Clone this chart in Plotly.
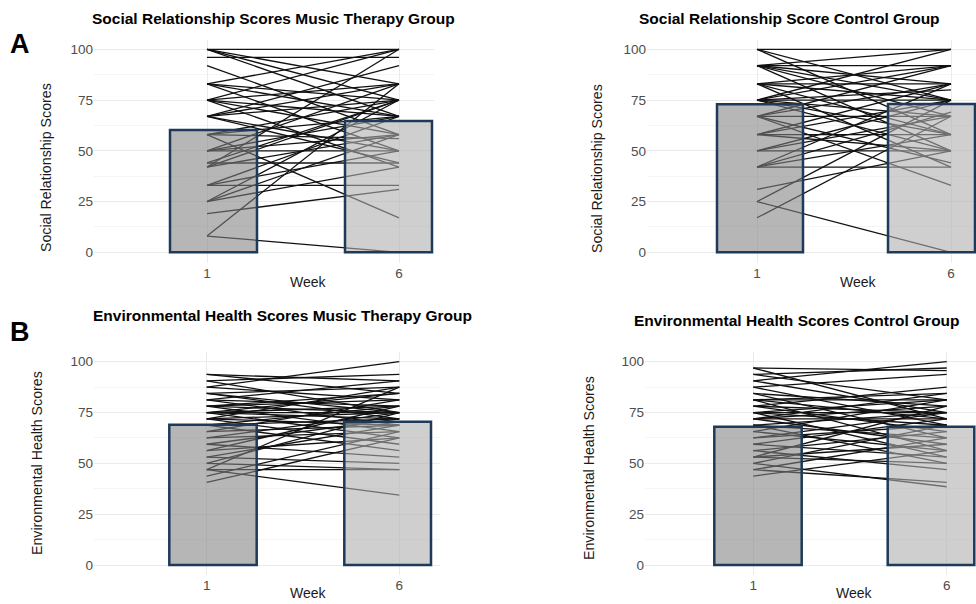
import plotly.graph_objects as go

# ---------------------------------------------------------------- data
WEEKS = [1, 6]
X_TICK_LABELS = ["1", "6"]
Y_TICKS = [0, 25, 50, 75, 100]

# group means (bar heights), week 1 and week 6
social_music_mean = [60.2, 64.7]
social_control_mean = [72.9, 73.0]
env_music_mean = [69.0, 70.5]
env_control_mean = [68.0, 68.0]

# individual participants: score at week 1 and at week 6
social_music_w1 = [100, 100, 100, 100, 96, 92, 83, 83, 83, 83, 75, 75, 75, 75, 75,
                   67, 67, 67, 67, 67, 58, 58, 58, 58, 50, 50, 50, 44, 42, 42, 42,
                   33, 33, 33, 25, 25, 25, 19, 8, 8, 44, 50]
social_music_w6 = [100, 83, 75, 67, 96, 58, 100, 75, 67, 50, 100, 83, 67, 58, 42,
                   92, 75, 83, 50, 44, 75, 67, 17, 56, 50, 83, 67, 44, 75, 58, 100,
                   33, 67, 50, 42, 58, 75, 31, 0, 83, 75, 58]

social_control_w1 = [100, 100, 100, 92, 92, 92, 92, 92, 83, 83, 83, 83, 83, 75, 75,
                     75, 75, 75, 75, 67, 67, 67, 67, 67, 58, 58, 58, 58, 50, 50, 50,
                     42, 42, 42, 42, 31, 25, 25, 17, 75, 92]
social_control_w6 = [100, 75, 58, 92, 83, 75, 50, 67, 92, 83, 75, 58, 42, 100, 92,
                     80, 75, 50, 67, 92, 83, 67, 44, 33, 75, 58, 83, 50, 67, 50, 75,
                     58, 83, 42, 69, 50, 0, 75, 67, 58, 100]

env_music_w1 = [93.75, 93.75, 90.6, 90.6, 87.5, 87.5, 84.4, 84.4, 81.25, 81.25, 81.25,
                78.1, 78.1, 78.1, 75, 75, 75, 75, 71.9, 71.9, 71.9, 71.9, 68.75, 68.75,
                68.75, 65.6, 65.6, 62.5, 62.5, 59.4, 59.4, 56.25, 56.25, 53.1, 53.1,
                50, 50, 46.9, 46.9, 43.75, 40.6, 46.9, 84.4, 75, 78.1]
env_music_w6 = [90.6, 84.4, 75, 93.75, 100, 81.25, 71.9, 87.5, 78.1, 68.75, 90.6,
                75, 81.25, 65.6, 78.1, 71.9, 84.4, 62.5, 75, 87.5, 68.75, 59.4, 78.1, 71.9,
                56.25, 81.25, 68.75, 75, 65.6, 71.9, 53.1, 78.1, 62.5, 68.75, 50,
                75, 46.9, 34.4, 87.5, 65.6, 62.5, 46.9, 75, 75, 84.4]

env_control_w1 = [96.9, 93.75, 93.75, 90.6, 90.6, 87.5, 87.5, 84.4, 84.4, 81.25, 81.25,
                  81.25, 78.1, 78.1, 78.1, 75, 75, 75, 71.9, 71.9, 71.9, 71.9, 68.75,
                  68.75, 68.75, 65.6, 65.6, 62.5, 62.5, 59.4, 59.4, 56.25, 56.25, 53.1,
                  53.1, 50, 50, 46.9, 46.9, 43.75, 53.1, 81.25, 96.9, 75]
env_control_w6 = [71.9, 96.9, 81.25, 100, 75, 68.75, 93.75, 78.1, 62.5, 84.4, 71.9,
                  56.25, 87.5, 75, 65.6, 81.25, 68.75, 53.1, 78.1, 71.9, 59.4, 84.4, 75,
                  62.5, 50, 81.25, 56.25, 75, 68.75, 71.9, 53.1, 65.6, 46.9, 78.1,
                  59.4, 68.75, 38.5, 62.5, 40.6, 56.25, 50, 81.25, 95.6, 75]

# ---------------------------------------------------------------- layout helpers
W, H = 976, 604
FONT = "Liberation Sans"
BAR_FILL = ["rgba(130,130,130,0.58)", "rgba(175,175,175,0.6)"]
BAR_EDGE = "#1e3a5a"


def px_x(p):
    return p / W


def px_y(p):
    return 1 - p / H


# pixel geometry of each panel: plot box, tick positions, value-axis scale, bar extents
panels = [
    dict(title="Social Relationship Scores Music Therapy Group", ytitle="Social Relationship Scores",
         w1=social_music_w1, w6=social_music_w6, mean=social_music_mean,
         box=(94, 434, 40, 263), ticks=(207, 399), yscale=(252.3, 49.3),
         bars=((170, 257), (345, 432)),
         title_xy=(273, 18), ytitle_xy=(46, 168), week_xy=(308, 282)),
    dict(title="Social Relationship Score Control Group", ytitle="Social Relationship Scores",
         w1=social_control_w1, w6=social_control_w6, mean=social_control_mean,
         box=(647, 976, 40, 263), ticks=(757, 951), yscale=(252.3, 49.3),
         bars=((717, 803), (888, 975)),
         title_xy=(789, 19), ytitle_xy=(597, 169), week_xy=(858, 282)),
    dict(title="Environmental Health Scores Music Therapy Group", ytitle="Environmental Health Scores",
         w1=env_music_w1, w6=env_music_w6, mean=env_music_mean,
         box=(94, 440, 352, 575), ticks=(206.7, 399.3), yscale=(565, 361.7),
         bars=((169.3, 256.7), (344.3, 431)),
         title_xy=(282, 315), ytitle_xy=(37, 463), week_xy=(308, 593)),
    dict(title="Environmental Health Scores Control Group", ytitle="Environmental Health Scores",
         w1=env_control_w1, w6=env_control_w6, mean=env_control_mean,
         box=(645, 976, 352, 575), ticks=(753.3, 946.7), yscale=(565, 361.7),
         bars=((714.3, 801.7), (887.7, 974.3)),
         title_xy=(797, 320), ytitle_xy=(589, 468), week_xy=(854, 593)),
]

fig = go.Figure()
layout = dict(
    width=W, height=H, margin=dict(l=0, r=0, t=0, b=0),
    paper_bgcolor="white", plot_bgcolor="white", showlegend=False,
    barmode="overlay", font=dict(family=FONT, size=13, color="#4d4d4d"),
)
annotations = []

for i, p in enumerate(panels):
    k = i + 1          # axes holding the individual lines
    kb = i + 5         # overlaid axes holding the bars (drawn on top)
    left, right, top, bottom = p["box"]
    t1, t6 = p["ticks"]
    sx = (t6 - t1) / (WEEKS[1] - WEEKS[0])
    xr = [WEEKS[0] + (left - t1) / sx, WEEKS[0] + (right - t1) / sx]
    y0px, y100px = p["yscale"]
    sy = (y0px - y100px) / 100.0
    yr = [(y0px - bottom) / sy, (y0px - top) / sy]

    xd = [px_x(left), px_x(right)]
    yd = [px_y(bottom), px_y(top)]

    layout[f"xaxis{k}"] = dict(
        domain=xd, range=xr, anchor=f"y{k}", tickvals=WEEKS, ticktext=X_TICK_LABELS,
        showgrid=True, gridcolor="#ebebeb", gridwidth=1, zeroline=False, showline=False,
        ticks="", tickfont=dict(family=FONT, size=13.5, color="#4d4d4d"), fixedrange=True,
    )
    layout[f"yaxis{k}"] = dict(
        domain=yd, range=yr, anchor=f"x{k}", tickvals=Y_TICKS,
        showgrid=True, gridcolor="#ebebeb", gridwidth=1, zeroline=False, showline=False,
        ticks="", tickfont=dict(family=FONT, size=13.5, color="#4d4d4d"),
        minor=dict(tickvals=[12.5, 37.5, 62.5, 87.5], showgrid=True,
                   gridcolor="#f5f5f5", gridwidth=1),
        fixedrange=True,
    )
    layout[f"xaxis{kb}"] = dict(overlaying=f"x{k}", range=xr, anchor=f"y{kb}",
                                visible=False, fixedrange=True)
    layout[f"yaxis{kb}"] = dict(overlaying=f"y{k}", range=yr, anchor=f"x{kb}",
                                visible=False, fixedrange=True)

    # one segment per participant from week 1 to week 6
    xs, ys = [], []
    for a, b in zip(p["w1"], p["w6"]):
        xs += [WEEKS[0], WEEKS[1], None]
        ys += [a, b, None]
    fig.add_trace(go.Scatter(
        x=xs, y=ys, mode="lines", xaxis=f"x{k}", yaxis=f"y{k}",
        line=dict(color="#111111", width=1.3), hoverinfo="skip",
    ))

    # mean bars, translucent, drawn above the lines
    offs = [(p["bars"][j][0] - (t1 if j == 0 else t6)) / sx for j in range(2)]
    wids = [(p["bars"][j][1] - p["bars"][j][0]) / sx for j in range(2)]
    fig.add_trace(go.Bar(
        x=WEEKS, y=p["mean"], offset=offs, width=wids,
        xaxis=f"x{kb}", yaxis=f"y{kb}",
        marker=dict(color=BAR_FILL, line=dict(color=BAR_EDGE, width=2.5)),
    ))

    tx, ty = p["title_xy"]
    annotations.append(dict(
        text=f"<b>{p['title']}</b>", x=px_x(tx), y=px_y(ty), xref="paper", yref="paper",
        xanchor="center", yanchor="middle", showarrow=False,
        font=dict(family=FONT, size=15.5, color="#000000"),
    ))
    ax_, ay_ = p["ytitle_xy"]
    annotations.append(dict(
        text=p["ytitle"], x=px_x(ax_), y=px_y(ay_), xref="paper", yref="paper",
        xanchor="center", yanchor="middle", textangle=-90, showarrow=False,
        font=dict(family=FONT, size=14.2, color="#1a1a1a"),
    ))
    wx, wy = p["week_xy"]
    annotations.append(dict(
        text="Week", x=px_x(wx), y=px_y(wy), xref="paper", yref="paper",
        xanchor="center", yanchor="middle", showarrow=False,
        font=dict(family=FONT, size=14, color="#1a1a1a"),
    ))

# panel letters
for letter, (lx, ly) in zip(["A", "B"], [(20, 44), (20, 332)]):
    annotations.append(dict(
        text=f"<b>{letter}</b>", x=px_x(lx), y=px_y(ly), xref="paper", yref="paper",
        xanchor="center", yanchor="middle", showarrow=False,
        font=dict(family=FONT, size=27, color="#000000"),
    ))

layout["annotations"] = annotations
fig.update_layout(**layout)
fig.write_html("out.html")
